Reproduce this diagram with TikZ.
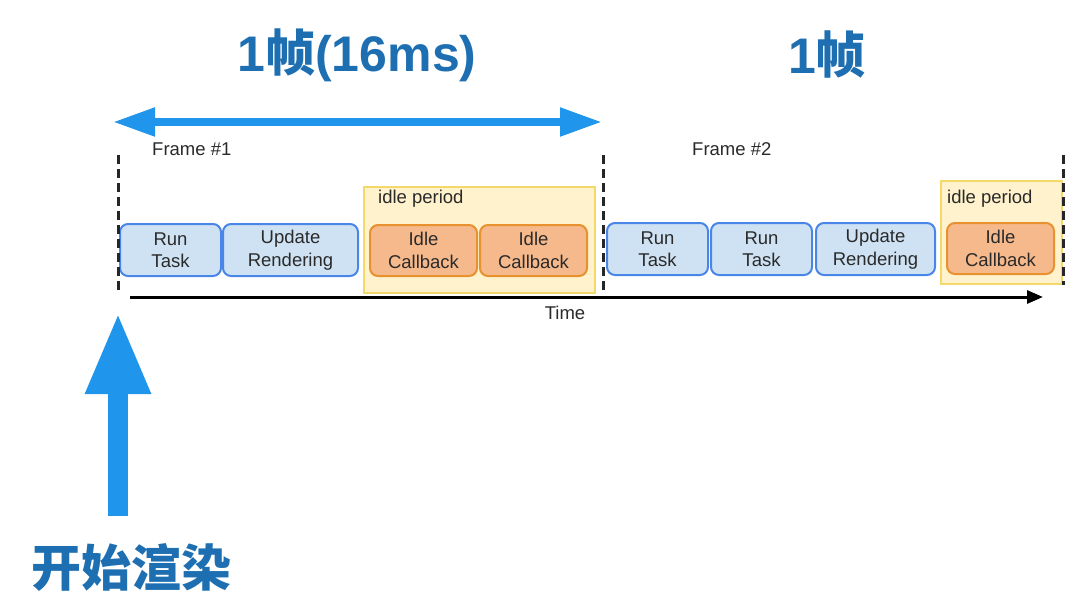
\documentclass[tikz,border=0pt]{standalone}
\usepackage{fontspec}
\setmainfont{Liberation Sans}
\newfontfamily\cjk{Noto Sans CJK SC}
\usepackage{tikz}
\usetikzlibrary{arrows.meta}
\definecolor{titleblue}{HTML}{1D6FB1}
\definecolor{arrowblue}{HTML}{1F95EC}
\definecolor{taskfill}{HTML}{CFE2F3}
\definecolor{taskdraw}{HTML}{4A86E8}
\definecolor{idlefill}{HTML}{F6B98C}
\definecolor{idledraw}{HTML}{E8912F}
\definecolor{periodfill}{HTML}{FFF2CC}
\definecolor{perioddraw}{HTML}{F5D86A}
\definecolor{labelgray}{HTML}{2A2A2A}
\newcommand{\zh}[1]{{\cjk #1}}

\begin{document}
\begin{tikzpicture}[x=1pt,y=-1pt,
			every node/.append style={inner sep=0pt},
			txt/.style={font=\fontsize{18.5}{22.5}\selectfont, text=labelgray},
			taskbox/.style={txt, draw=taskdraw, fill=taskfill, line width=2pt, rounded corners=8pt, align=center, minimum height=52pt},
			idlebox/.style={txt, draw=idledraw, fill=idlefill, line width=2pt, rounded corners=8pt, align=center, minimum width=107pt, minimum height=51pt},
			period/.style={draw=perioddraw, fill=periodfill, line width=1.2pt},
			framesep/.style={black!85, line width=3pt, dash pattern=on 9pt off 5pt},
			bigtitle/.style={font=\bfseries\fontsize{50}{50}\selectfont, text=titleblue}]
			\useasboundingbox (0,0) rectangle (1092,594);
			% titles and the frame length
			\node [bigtitle] (title1) at (357,55) {1\zh{帧}(16ms)};
			\node [bigtitle] (title2) at (827,55) {1\zh{帧}};
			\coordinate (span1) at (113,122);
			\coordinate (span2) at (602,122);
			\draw [arrowblue, line width=8pt, {Triangle[length=42pt,width=27pt]}-{Triangle[length=42pt,width=27pt]}] (span1) -- (span2);
			% idle periods
			\node [period, minimum width=231pt, minimum height=106pt] (period1) at (479.5,240) {};
			\node [period, minimum width=121pt, minimum height=103pt] (period2) at (1001.5,232.5) {};
			\node [txt, anchor=west] (plabel1) at (378,199) {idle period};
			\node [txt, anchor=west] (plabel2) at (947,199) {idle period};
			% frame #1
			\node [txt, anchor=west] (frame1) at (152,149) {Frame \#1};
			\node [taskbox, minimum width=101pt] (run1) at (170.5,250) {Run\\Task};
			\node [taskbox, minimum width=135pt] (upd1) at (290.5,250) {Update\\Rendering};
			\node [idlebox] (cb1) at (423.5,250.5) {Idle\\Callback};
			\node [idlebox] (cb2) at (533.5,250.5) {Idle\\Callback};
			% frame #2
			\node [txt, anchor=west] (frame2) at (692,149) {Frame \#2};
			\node [taskbox, minimum width=101pt] (run2) at (657.5,249) {Run\\Task};
			\node [taskbox, minimum width=101pt] (run3) at (761.5,249) {Run\\Task};
			\node [taskbox, minimum width=119pt] (upd2) at (875.5,249) {Update\\Rendering};
			\node [idlebox] (cb3) at (1000.5,248.5) {Idle\\Callback};
			% frame borders
			\coordinate (sep1t) at (118,155);
			\coordinate (sep1b) at (118,290);
			\coordinate (sep2t) at (603,155);
			\coordinate (sep2b) at (603,290);
			\coordinate (sep3t) at (1063,155);
			\coordinate (sep3b) at (1063,285);
			\draw [framesep] (sep1t) -- (sep1b);
			\draw [framesep] (sep2t) -- (sep2b);
			\draw [framesep] (sep3t) -- (sep3b);
			% time axis
			\coordinate (time0) at (130,297);
			\coordinate (time1) at (1043,297);
			\draw [black, line width=3pt, -{Triangle[length=16pt,width=13pt]}] (time0) -- (time1);
			\node [txt] (timelabel) at (565,313) {Time};
			% start of rendering
			\coordinate (start0) at (118,516);
			\coordinate (start1) at (118,312);
			\draw [arrowblue, line width=20pt, -{Triangle[length=82pt,width=60pt]}] (start0) -- (start1);
			\node [bigtitle, font=\cjk\bfseries\fontsize{50}{50}\selectfont] (startlabel) at (131,568) {开始渲染};
\end{tikzpicture}
\end{document}
